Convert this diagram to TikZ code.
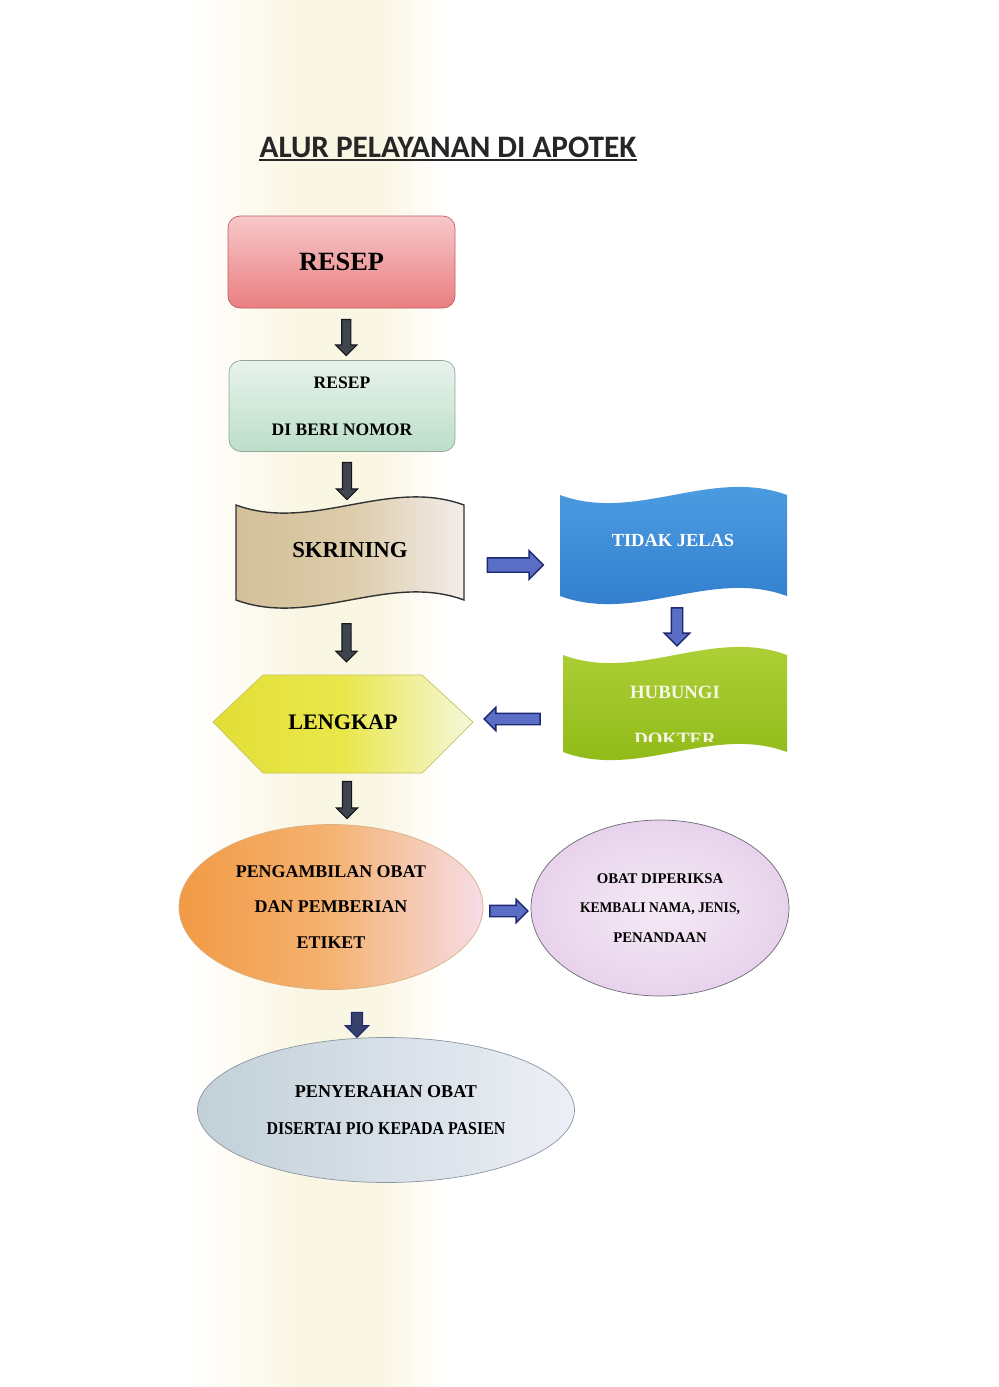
\documentclass[tikz,border=0pt]{standalone}
\usepackage{fontspec}
\setmainfont{Liberation Serif}
\newfontfamily\titlefont{Carlito}
\usepackage{graphicx}
\usetikzlibrary{shapes.geometric,shapes.arrows,calc}

\definecolor{bandcream}{HTML}{FAF6E4}
\definecolor{titleink}{HTML}{262626}
\definecolor{resepred}{HTML}{EA7E80}
\definecolor{resepred2}{HTML}{F7C8CA}
\definecolor{resepline}{HTML}{C0605E}
\definecolor{nomortop}{HTML}{E8F3EC}
\definecolor{nomorbottom}{HTML}{BCDEC9}
\definecolor{nomorline}{HTML}{95A59C}
\definecolor{skrintan}{HTML}{D3C09A}
\definecolor{skrinmid}{HTML}{DCCCAA}
\definecolor{skrinlight}{HTML}{F3ECEA}
\definecolor{skrinline}{HTML}{333333}
\definecolor{tidaktop}{HTML}{4FA0E4}
\definecolor{tidakbottom}{HTML}{2F7BCB}
\definecolor{hubtop}{HTML}{B2D23C}
\definecolor{hubbottom}{HTML}{8CB814}
\definecolor{hubtext}{HTML}{F6F6E6}
\definecolor{lengyellow}{HTML}{E2DE36}
\definecolor{lengmid}{HTML}{EAE74C}
\definecolor{lenglight}{HTML}{F5F7DE}
\definecolor{lengline}{HTML}{C4C45A}
\definecolor{pengorange}{HTML}{F29A44}
\definecolor{pengmid}{HTML}{F5B272}
\definecolor{pengpink}{HTML}{F6DCE6}
\definecolor{pengline}{HTML}{D8B284}
\definecolor{obatin}{HTML}{F5EAF6}
\definecolor{obatout}{HTML}{E8D2EC}
\definecolor{obatline}{HTML}{6A6A78}
\definecolor{penyblue}{HTML}{C2D0D8}
\definecolor{penylight}{HTML}{EDEFF6}
\definecolor{penyline}{HTML}{8A96A4}
\definecolor{arrowdark}{HTML}{3E454E}
\definecolor{arrowline}{HTML}{15171A}
\definecolor{bluefill}{HTML}{5A6EC6}
\definecolor{blueline}{HTML}{1D2870}
\definecolor{navyfill}{HTML}{36406A}

\newlength{\pxu}
\setlength{\pxu}{0.02cm}

\tikzset{
  boxtext/.style={font=\bfseries, text=black, align=center, inner sep=0pt},
  darkarrow/.style={single arrow, draw=arrowline, fill=arrowdark, line width=0.6pt,
    inner xsep=0pt, inner ysep=4*\pxu, single arrow head extend=6*\pxu},
  bluearrow/.style={single arrow, draw=blueline, fill=bluefill, line width=0.8pt,
    inner xsep=0pt, inner ysep=6.5*\pxu, single arrow head extend=7*\pxu},
}

\begin{document}
\begin{tikzpicture}[x=0.02cm, y=-0.02cm]
\useasboundingbox (0,0) rectangle (998,1387);
\fill[white] (0,0) rectangle (998,1387);
% pale band of the scanned page
\shade[left color=white, right color=bandcream] (185,0) rectangle (300,1387);
\shade[left color=bandcream, right color=white] (380,0) rectangle (445,1387);
\fill[bandcream] (300,0) rectangle (380,1387);

% Title
\node[font=\titlefont\bfseries\fontsize{17.8}{20}\selectfont, text=titleink,
  anchor=base, inner sep=0pt] (title) at (448,157) {ALUR PELAYANAN DI APOTEK};
\draw[line width=1.2pt, titleink] ([yshift=-1.8pt]title.base west) -- ([yshift=-1.8pt]title.base east);

% Left column
\node[rounded corners=0.24cm, draw=resepline, top color=resepred2, bottom color=resepred,
  minimum width=227*\pxu, minimum height=92*\pxu, boxtext,
  font=\bfseries\fontsize{15}{18}\selectfont] (resep) at (341.5,262) {RESEP};
\node[rounded corners=0.24cm, draw=nomorline, top color=nomortop, bottom color=nomorbottom,
  minimum width=226*\pxu, minimum height=91*\pxu, boxtext,
  font=\bfseries\fontsize{10}{27}\selectfont] (nomor) at (342,406) {RESEP\\DI BERI NOMOR};

% Skrining (wave)
\shadedraw[draw=skrinline, line width=0.8pt, left color=skrintan, right color=skrinlight, middle color=skrinmid]
  (236,505) .. controls (312,533) and (388,477) .. (464,505) -- (464,600)
  .. controls (388,572) and (312,628) .. (236,600) -- cycle;
\node[boxtext, minimum width=228*\pxu, minimum height=108*\pxu,
  font=\bfseries\fontsize{13}{16}\selectfont] (skrining) at (350,550) {SKRINING};

% Tidak jelas (wave)
\shade[top color=tidaktop, bottom color=tidakbottom]
  (560,495) .. controls (636,523) and (711,467) .. (787,495) -- (787,596)
  .. controls (711,568) and (636,624) .. (560,596) -- cycle;
\node[boxtext, text=white, minimum width=227*\pxu, minimum height=104*\pxu,
  font=\bfseries\fontsize{10.5}{13}\selectfont] (tidak) at (673,540) {TIDAK JELAS};

% Hubungi dokter (wave), second line cut off
\shade[top color=hubtop, bottom color=hubbottom]
  (563,655) .. controls (638,683) and (712,627) .. (787,655) -- (787,752)
  .. controls (712,724) and (638,780) .. (563,752) -- cycle;
\begin{scope}
  \clip (550,600) rectangle (800,741);
  \node[boxtext, text=hubtext, minimum width=224*\pxu, minimum height=104*\pxu,
    font=\bfseries\fontsize{10.7}{27}\selectfont] (hubungi) at (675,716) {HUBUNGI\\DOKTER};
\end{scope}

% Lengkap (hexagon)
\shadedraw[draw=lengline, left color=lengyellow, right color=lenglight, middle color=lengmid]
  (213,722) -- (263,675) -- (422,675) -- (473,722) -- (422,773) -- (263,773) -- cycle;
\node[boxtext, minimum width=260*\pxu, minimum height=98*\pxu,
  font=\bfseries\fontsize{12.6}{15}\selectfont] (lengkap) at (343,722) {LENGKAP};

% Ellipses
\node[ellipse, draw=pengline, left color=pengorange, right color=pengpink, middle color=pengmid,
  minimum width=304*\pxu, minimum height=165*\pxu, boxtext,
  font=\bfseries\fontsize{10.2}{20}\selectfont] (pengambilan) at (331,907)
  {PENGAMBILAN OBAT\\DAN PEMBERIAN\\ETIKET};
\node[ellipse, draw=obatline, inner color=obatin, outer color=obatout,
  minimum width=258*\pxu, minimum height=176*\pxu, boxtext,
  font=\bfseries\fontsize{8.4}{17}\selectfont] (obat) at (660,908)
  {OBAT DIPERIKSA\\\scalebox{0.92}[1]{KEMBALI NAMA, JENIS,}\\PENANDAAN};
\node[ellipse, draw=penyline, left color=penyblue, right color=penylight,
  minimum width=377*\pxu, minimum height=145*\pxu, boxtext,
  font=\bfseries\fontsize{10.3}{21}\selectfont] (penyerahan) at (386,1110)
  {PENYERAHAN OBAT\\\scalebox{0.88}[1]{DISERTAI PIO KEPADA PASIEN}};

% Arrows
\node[darkarrow, rotate=-90, minimum height=36*\pxu] (a1) at ($(resep.south)!0.5!(nomor.north)+(4.5,1)$) {};
\node[darkarrow, rotate=-90, minimum height=37*\pxu] (a2) at ($(nomor.south)!0.5!(skrining.north)+(1,5)$) {};
\node[darkarrow, rotate=-90, minimum height=38*\pxu] (a3) at ($(skrining.south)!0.5!(lengkap.north)+(0,2)$) {};
\node[darkarrow, rotate=-90, minimum height=37*\pxu] (a4) at ($(lengkap.south)!0.5!(pengambilan.north)+(10,0)$) {};
\node[darkarrow, draw=blueline, fill=navyfill, rotate=-90, minimum height=25*\pxu, inner ysep=5*\pxu]
  (a5) at ($(pengambilan.south)!0.5!(penyerahan.north)+(-1.5,8.5)$) {};
\node[bluearrow, minimum height=56*\pxu] (a6) at ($(skrining.east)!0.5!(tidak.west)+(0,20)$) {};
\node[bluearrow, rotate=-90, minimum height=38*\pxu, inner ysep=5*\pxu] (a7) at ($(tidak.south)!0.5!(hubungi.north)+(3,-4)$) {};
\node[bluearrow, rotate=180, minimum height=56*\pxu, inner ysep=5*\pxu, single arrow head extend=6*\pxu]
  (a8) at ($(hubungi.west)!0.5!(lengkap.east)+(-3,0)$) {};
\node[bluearrow, minimum height=38*\pxu, inner ysep=5*\pxu, single arrow head extend=6*\pxu]
  (a9) at ($(pengambilan.east)!0.5!(obat.west)+(-1,3.5)$) {};
\end{tikzpicture}
\end{document}
